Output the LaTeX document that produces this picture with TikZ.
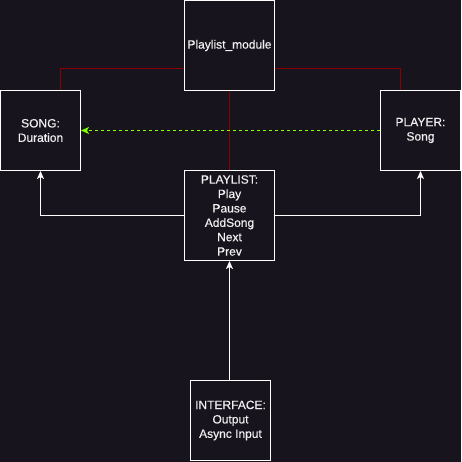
\documentclass[tikz,border=0pt]{standalone}
\usepackage{fontspec}
\setmainfont{Liberation Sans}[FakeBold=0.4]
\usetikzlibrary{arrows.meta}
\definecolor{bg}{HTML}{18141D}
\definecolor{darkred}{HTML}{8A0000}
\definecolor{lime}{HTML}{80FF00}
\definecolor{txt}{HTML}{F0F0F0}
\begin{document}
\begin{tikzpicture}[x=1pt,y=-1pt,
  box/.style={draw=white,line width=1pt,fill=bg,inner sep=0pt,align=center,text=txt,
    font=\fontsize{12}{14.4}\selectfont},
  redline/.style={draw=darkred,line width=1pt},
  whitearrow/.style={draw=white,line width=1pt,-{Stealth[length=8pt,width=7pt,inset=2pt]}},
  greenarrow/.style={draw=lime,line width=1.3pt,dash pattern=on 3pt off 3pt,-{Stealth[length=8pt,width=7pt,inset=2pt]}}]
\fill[bg] (0,0) rectangle (461,462);
\useasboundingbox (0,0) rectangle (461,462);
\coordinate (rl) at (60.5,68.5);
\coordinate (rr) at (400.5,68.5);
\node[box,minimum width=90pt,minimum height=90pt] (module) at (229.5,45.5) {Playlist\_module};
\node[box,minimum width=80pt,minimum height=80pt] (song) at (40.5,130.5) {SONG:\\Duration};
\node[box,minimum width=80pt,minimum height=80pt] (player) at (420.5,130.5) {PLAYER:\\Song};
\node[box,minimum width=90pt,minimum height=90pt] (playlist) at (229.5,215.5) {PLAYLIST:\\Play\\Pause\\AddSong\\Next\\Prev};
\node[box,minimum width=80pt,minimum height=80pt] (iface) at (230.5,420.5) {INTERFACE:\\Output\\Async Input};
\draw[redline] (module.west |- rl) -- (rl) -- (rl |- song.north);
\draw[redline] (module.east |- rr) -- (rr) -- (rr |- player.north);
\draw[redline,line width=1.2pt] (module.south) -- (playlist.north);
\draw[greenarrow] (player.west) -- (song.east);
\draw[whitearrow] (playlist.west) -| (song.south);
\draw[whitearrow] (playlist.east) -| (player.south);
\draw[whitearrow] (iface.north -| playlist.south) -- (playlist.south);
\end{tikzpicture}
\end{document}
